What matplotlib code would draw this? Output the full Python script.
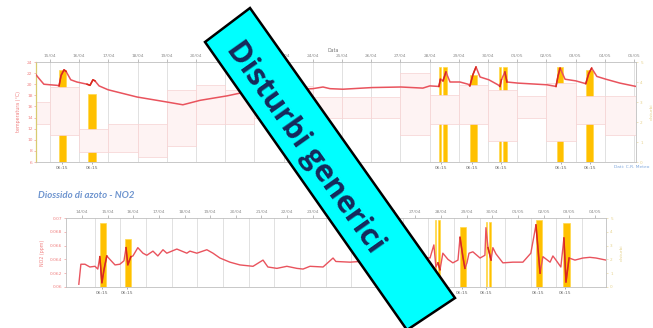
import matplotlib
matplotlib.use("Agg")
import matplotlib.pyplot as plt
from matplotlib.patches import Rectangle, Polygon
import numpy as np

# ---------------- data: top chart (temperature) ----------------
top_dates = ["15/04", "16/04", "17/04", "18/04", "19/04", "20/04", "21/04", "22/04",
             "23/04", "24/04", "25/04", "26/04", "27/04", "28/04", "29/04", "30/04",
             "01/05", "02/05", "03/05", "04/05", "05/05"]
top_date_pos = list(range(1, 22))          # day index (14/04 = 0)

temp_t = [0.52, 0.66, 0.79, 1.0, 1.24, 1.31, 1.38, 1.48, 1.55, 1.71, 1.92, 2.27, 2.37,
          2.47, 2.54, 2.68, 2.99, 3.98, 5.0, 5.55, 6.14, 7.06, 7.51, 8.53, 9.56, 10.0,
          10.35, 10.59, 11.03, 12.03, 13.02, 13.77, 14.01, 14.32, 14.37, 14.46, 14.56,
          14.7, 15.04, 15.32, 15.38, 15.49, 15.59, 15.73, 16.03, 16.34, 16.41, 16.46,
          16.58, 16.65, 17.03, 18.02, 18.33, 18.40, 18.47, 18.64, 19.01, 19.35, 19.45,
          19.55, 19.73, 20.04, 20.52, 21.07]
temp_v = [21.7, 20.8, 20.0, 19.9, 19.8, 19.7, 21.6, 22.6, 22.3, 20.8, 20.4, 20.0, 19.8,
          20.8, 20.6, 19.7, 19.0, 17.7, 16.8, 16.3, 17.1, 17.9, 18.4, 18.9, 19.1, 19.2,
          19.5, 19.2, 19.1, 19.4, 19.5, 19.3, 19.7, 19.6, 20.9, 20.6, 22.2,
          20.4, 20.4, 20.0, 19.7, 21.8, 23.1, 21.3, 20.8, 19.9, 19.6, 20.8,
          22.2, 20.4, 20.2, 19.9, 19.6, 21.5, 22.9, 20.9, 20.6, 20.1, 21.9,
          22.9, 21.4, 20.9, 20.2, 19.6]

# daily outdoor range boxes (day start, day end, min, max)
box_start = [0.52, 1, 2, 3, 4, 5, 6, 7, 8, 9, 10, 11, 12, 13, 14, 15, 16, 17, 18, 19, 20]
box_end = [1, 2, 3, 4, 5, 6, 7, 8, 9, 10, 11, 12, 13, 14, 15, 16, 17, 18, 19, 20, 21.07]
box_low = [12.8, 10.9, 7.8, 7.8, 6.9, 8.9, 12.8, 12.8, 14.0, 13.9, 13.9, 13.9, 13.9,
           10.9, 12.8, 12.8, 9.8, 13.9, 9.8, 12.8, 10.9]
box_high = [16.8, 19.5, 11.9, 12.8, 12.8, 19.0, 19.9, 19.0, 18.5, 19.7, 17.7, 17.7, 17.7,
            22.0, 18.1, 19.9, 19.0, 17.9, 20.2, 17.9, 17.9]

# disturbance bars (start, end, height on right axis)
tbar_start = [1.31, 2.30, 14.33, 14.47, 15.38, 16.38, 16.53, 18.36, 19.36]
tbar_end = [1.55, 2.58, 14.38, 14.59, 15.62, 16.45, 16.65, 18.57, 19.60]
tbar_h = [4.6, 3.4, 4.75, 4.75, 4.35, 4.75, 4.75, 4.75, 4.6]
tev_pos = [1.41, 2.44, 14.39, 15.45, 16.44, 18.49, 19.49]
tev_lab = ["06:15"] * 7

# ---------------- data: bottom chart (NO2) ----------------
bot_dates = ["14/04", "15/04", "16/04", "17/04", "18/04", "19/04", "20/04", "21/04",
             "22/04", "23/04", "24/04", "25/04", "26/04", "27/04", "28/04", "29/04",
             "30/04", "01/05", "02/05", "03/05", "04/05"]
bot_date_pos = [i + 0.5 for i in range(21)]

no2_t = [0.38, 0.46, 0.62, 0.81, 1.01, 1.12, 1.2, 1.28, 1.36, 1.47, 1.59, 1.79, 1.98,
         2.14, 2.22, 2.29, 2.41, 2.49, 2.68, 2.88, 3.03, 3.27, 3.46, 3.66, 3.81, 4.2,
         4.59, 4.71, 4.98, 5.37, 5.61, 5.88, 6.27, 6.66, 7.17, 7.56, 7.75, 8.1, 8.49,
         8.88, 9.12, 9.39, 9.9, 10.29, 10.4, 10.95, 11.34, 12.23, 13.13, 14.07, 14.22,
         14.3, 14.38, 14.46, 14.57, 14.77, 14.96, 15.16, 15.24, 15.35, 15.43, 15.51,
         15.59, 15.74, 16.02, 16.21, 16.25, 16.33, 16.45, 16.52, 16.64, 16.91, 17.3,
         17.69, 18.0, 18.2, 18.36, 18.47, 18.75, 18.86, 18.98, 19.17, 19.29, 19.37,
         19.49, 19.72, 20.03, 20.3, 20.54, 20.93]
no2_v = [0.0604, 0.0633, 0.0633, 0.0629, 0.0630, 0.0626, 0.0644, 0.0606, 0.0625, 0.0645,
         0.0640, 0.0632, 0.0633, 0.0638, 0.0657, 0.0632, 0.0644, 0.0645, 0.0657, 0.0649,
         0.0646, 0.0652, 0.0645, 0.0654, 0.0649, 0.0655, 0.0649, 0.0652, 0.0649, 0.0654,
         0.0649, 0.0642, 0.0636, 0.0632, 0.0630, 0.0639, 0.0629, 0.0627, 0.0630, 0.0627,
         0.0626, 0.0630, 0.0629, 0.0642, 0.0637, 0.0636, 0.0637, 0.0640, 0.0645, 0.0642,
         0.0661, 0.0629, 0.0635, 0.0625, 0.0649, 0.0640, 0.0635, 0.0639, 0.0672, 0.0644,
         0.0627, 0.0635, 0.0649, 0.0651, 0.0642, 0.0646, 0.0686, 0.0657, 0.0639, 0.0657,
         0.0648, 0.0635, 0.0636, 0.0636, 0.0649, 0.0690, 0.0620, 0.0644, 0.0636, 0.0645,
         0.0639, 0.0629, 0.0671, 0.0607, 0.0642, 0.0639, 0.0642, 0.0643, 0.0642, 0.0639]

bbar_start = [1.20, 2.18, 14.26, 14.38, 15.24, 16.25, 16.36, 18.20, 19.25]
bbar_end = [1.44, 2.41, 14.32, 14.46, 15.47, 16.29, 16.45, 18.43, 19.53]
bbar_h = [4.64, 3.48, 4.86, 4.86, 4.35, 4.71, 4.71, 4.86, 4.64]
bev_pos = [1.28, 2.25, 14.3, 15.32, 16.25, 18.28, 19.33]
bev_lab = ["06:15"] * 7

banner_text = "Disturbi generici"
no2_title = "Diossido di azoto - NO2"

# ---------------- styling ----------------
RED = "#e9535d"
DARK_RED = "#d8281c"
GOLD = "#ffc000"
GOLD_EDGE = "#ffd94a"
GRID = "#dcdcdc"
TICK = "#8c8c8c"
YEL_TXT = "#e6d38f"
W, H = 653, 328

fig = plt.figure(figsize=(W / 100, H / 100), dpi=100)
fig.patch.set_facecolor("white")


def fx(px):
    return px / W


def fy(py):
    return 1 - py / H


def style_axes(ax, ax2, xlim, ylim, yticks, ylabels, ylab, rlab, dates, dpos,
               ev_pos, ev_lab, grid_pos):
    ax.set_xlim(*xlim)
    ax.set_ylim(*ylim)
    ax.set_yticks(yticks)
    ax.set_yticklabels(ylabels)
    ax.tick_params(axis="y", labelsize=3.2, colors="#f08080", length=1.5, width=0.4, pad=1)
    ax.xaxis.set_ticks_position("both")
    ax.set_xticks(dpos)
    ax.set_xticklabels(dates)
    ax.set_xticks(ev_pos, minor=True)
    ax.set_xticklabels(ev_lab, minor=True)
    ax.tick_params(axis="x", which="major", labeltop=True, labelbottom=False, top=True,
                   bottom=False, labelsize=3.2, colors=TICK, length=2, width=0.4, pad=1)
    ax.tick_params(axis="x", which="minor", labeltop=False, labelbottom=True, top=False,
                   bottom=True, labelsize=3.2, colors="#6a6a6a", length=1.5, width=0.4, pad=1.5)
    for gp in grid_pos:
        ax.axvline(gp, color=GRID, lw=0.6, zorder=1)
    for s in ax.spines.values():
        s.set_color("#bfbfbf")
        s.set_linewidth(0.6)
    ax.set_ylabel(ylab, fontsize=3.4, color="#f08080", labelpad=4)
    ax2.set_ylim(0, 5)
    ax2.set_yticks([0, 1, 2, 3, 4, 5])
    ax2.tick_params(axis="y", labelsize=3.0, colors=YEL_TXT, length=1.5, width=0.4, pad=1.5)
    ax2.set_ylabel(rlab, fontsize=3.2, color=YEL_TXT, labelpad=5)
    for s in ax2.spines.values():
        s.set_visible(False)


def overlay_in_bars(ax, t, v, starts, ends):
    t = np.asarray(t)
    v = np.asarray(v)
    for s, e in zip(starts, ends):
        m = (t >= s - 0.03) & (t <= e + 0.03)
        if m.sum() >= 2:
            ax.plot(t[m], v[m], color=DARK_RED, lw=1.1, zorder=5, solid_joinstyle="round")


# ---------------- top chart ----------------
ax1 = fig.add_axes([fx(36), fy(162), fx(636) - fx(36), fy(62) - fy(162)])
ax1b = ax1.twinx()
ax1.set_zorder(ax1b.get_zorder() + 1)
ax1.patch.set_visible(False)
style_axes(ax1, ax1b, (0.52, 21.07), (6, 24), list(range(6, 25, 2)),
           [str(v) for v in range(6, 25, 2)], "temperatura (°C)", "disturbi",
           top_dates, top_date_pos, tev_pos, tev_lab, top_date_pos)
ax1.spines["left"].set_color("#d8cc70")
ax1.spines["left"].set_linewidth(0.9)
for s, e, lo, hi in zip(box_start, box_end, box_low, box_high):
    ax1.add_patch(Rectangle((s, lo), e - s, hi - lo, facecolor="#fef3f3",
                            edgecolor="#f6d2d2", lw=0.5, zorder=1.5))
for s, e, h in zip(tbar_start, tbar_end, tbar_h):
    ax1b.add_patch(Rectangle((s, 0), e - s, h, facecolor=GOLD, edgecolor=GOLD_EDGE,
                             lw=0.5, zorder=2))
ax1.plot(temp_t, temp_v, color=RED, lw=1.1, zorder=4, solid_joinstyle="round")
overlay_in_bars(ax1, temp_t, temp_v, tbar_start, tbar_end)
fig.text(fx(333), fy(50), "Data", fontsize=3.4, color="#777777", ha="center", va="center")
fig.text(fx(649), fy(167), "Dati: C.R. Meteo", fontsize=3.2, color="#7fa7dc",
         ha="right", va="center")

# ---------------- bottom chart ----------------
ax2 = fig.add_axes([fx(66), fy(287), fx(606) - fx(66), fy(218) - fy(287)])
ax2b = ax2.twinx()
ax2.set_zorder(ax2b.get_zorder() + 1)
ax2.patch.set_visible(False)
no2_ticks = [0.06, 0.062, 0.064, 0.066, 0.068, 0.07]
style_axes(ax2, ax2b, (-0.12, 20.93), (0.06, 0.07), no2_ticks,
           ["0.06", "0.062", "0.064", "0.066", "0.068", "0.07"], "NO2 (ppm)", "disturbi",
           bot_dates, bot_date_pos, bev_pos, bev_lab, list(range(1, 21)))
for s, e, h in zip(bbar_start, bbar_end, bbar_h):
    ax2b.add_patch(Rectangle((s, 0), e - s, h, facecolor=GOLD, edgecolor=GOLD_EDGE,
                             lw=0.5, zorder=2))
ax2.plot(no2_t, no2_v, color=RED, lw=1.0, zorder=4, solid_joinstyle="round")
overlay_in_bars(ax2, no2_t, no2_v, bbar_start, bbar_end)
fig.text(fx(38), fy(196), no2_title, fontsize=6.9, color="#6f95cf", ha="left",
         va="center", fontstyle="italic", fontweight="bold", family="Lato")

# ---------------- banner ----------------
corners = [(250, 8), (455, 298), (407, 330), (205, 42)]
fig.patches.append(Polygon([(fx(x), fy(y)) for x, y in corners], closed=True,
                           transform=fig.transFigure, facecolor="#00ffff",
                           edgecolor="black", lw=1.8, zorder=10))
ang = -np.degrees(np.arctan2(298 - 8, 455 - 250))
fig.text(fx(305), fy(147), banner_text, rotation=ang, rotation_mode="anchor",
         ha="center", va="center", fontsize=22, fontweight="bold",
         family="Open Sans", color="#17285a", zorder=11)

fig.savefig("out.png", dpi=100, facecolor="white")
